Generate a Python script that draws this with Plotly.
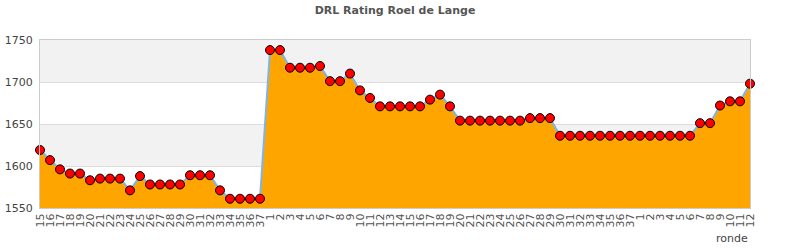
import plotly.graph_objects as go

title = "DRL Rating Roel de Lange"
x_title = "ronde"

rounds = [str(r) for r in range(15, 38)] + [str(r) for r in range(1, 38)] + [str(r) for r in range(1, 13)]

ratings = [
    1619, 1607, 1596, 1591, 1591, 1583, 1585, 1585, 1585, 1571,
    1588, 1578, 1578, 1578, 1578, 1589, 1589, 1589, 1571, 1561,
    1561, 1561, 1561,
    1738, 1738, 1717, 1717, 1717, 1719, 1701, 1701, 1710, 1690,
    1681, 1671, 1671, 1671, 1671, 1671, 1679, 1685, 1671, 1654,
    1654, 1654, 1654, 1654, 1654, 1654, 1657, 1657, 1657, 1636,
    1636, 1636, 1636, 1636, 1636, 1636, 1636,
    1636, 1636, 1636, 1636, 1636, 1636, 1651, 1651, 1672, 1677,
    1677, 1698,
]

y_ticks = [1550, 1600, 1650, 1700, 1750]
bands = [(1600, 1650), (1700, 1750)]

xs = list(range(len(rounds)))

fig = go.Figure()
fig.add_trace(go.Scatter(
    x=xs, y=ratings, mode="lines+markers", fill="tozeroy",
    fillcolor="#FFA500",
    line=dict(color="#7cb5ec", width=2),
    marker=dict(symbol="circle", size=9, color="#ff0000", line=dict(color="#000000", width=1)),
    cliponaxis=False, hoverinfo="x+y",
))

shapes = [dict(type="rect", xref="paper", yref="y", x0=0, x1=1, y0=a, y1=b,
               fillcolor="#f2f2f2", line=dict(width=0), layer="below") for a, b in bands]

fig.update_layout(
    width=790, height=250,
    margin=dict(l=40, r=40, t=40, b=42),
    paper_bgcolor="white", plot_bgcolor="white",
    showlegend=False,
    shapes=shapes,
    title=dict(text="<b>" + title + "</b>", x=0.5, xanchor="center", y=1 - 10 / 250, yanchor="middle",
               font=dict(family="DejaVu Sans", size=11, color="#555555")),
    font=dict(family="DejaVu Sans", size=11, color="#555555"),
    xaxis=dict(
        range=[0, len(rounds) - 1], tickmode="array", tickvals=xs, ticktext=rounds,
        tickangle=-90, tickfont=dict(size=11, color="#555555"),
        showgrid=False, zeroline=False, showline=True, linecolor="#cccccc", mirror=True,
        ticks="", automargin=False,
    ),
    yaxis=dict(
        range=[y_ticks[0], y_ticks[-1]], tickmode="array", tickvals=y_ticks,
        tickfont=dict(size=11, color="#444444"),
        showgrid=True, gridcolor="#dddddd", zeroline=False, showline=True,
        linecolor="#cccccc", mirror=True, ticks="", ticklabelstandoff=4, automargin=False,
    ),
    annotations=[dict(text=x_title, xref="paper", yref="paper", x=1, y=-30 / 168,
                      xanchor="right", yanchor="middle", showarrow=False,
                      font=dict(size=11, color="#444444"))],
)

fig.write_html("out.html")
